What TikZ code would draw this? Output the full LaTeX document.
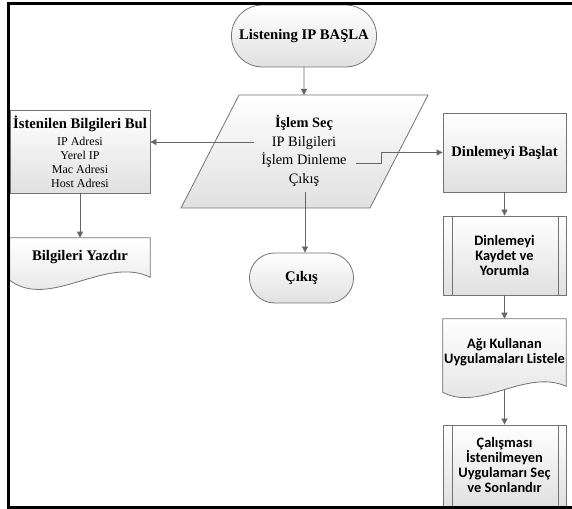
\documentclass[tikz,border=0pt]{standalone}
\usepackage{fontspec}
\setmainfont{Liberation Serif}
\newfontfamily\calfont{Carlito}
\usetikzlibrary{arrows.meta,shapes.misc,calc,backgrounds}

\begin{document}
\begin{tikzpicture}[
  x=0.75pt, y=-0.75pt,
  font=\fontsize{11}{13}\selectfont,
  base/.style={draw=black!55, line width=0.6pt, top color=white, bottom color=black!12},
  box/.style={base, rectangle, align=center, inner sep=0pt},
  term/.style={base, rounded rectangle, font=\fontsize{11}{13}\selectfont\bfseries},
  doc/.style={rectangle, align=center, inner sep=0pt},
  boldtxt/.style={font=\fontsize{11}{13}\selectfont\bfseries},
  calbox/.style={font=\calfont\fontsize{10.8}{11.25}\selectfont\bfseries},
  line/.style={draw=black!55, line width=0.6pt},
  arrow/.style={draw=black!60, line width=0.6pt, -{Triangle[length=4.5pt,width=4.5pt]}}
]
\useasboundingbox (0,0) rectangle (572,509);

% start and choice
\node[term, minimum width=115.5pt, minimum height=46.5pt] (start) at (304,36) {Listening IP BAŞLA};
\draw[base] (181,208) coordinate (pbl) -- (239,95) coordinate (ptl) -- (428,95) coordinate (ptr) -- (370,208) coordinate (pbr) -- cycle;
\node[align=center, font=\fontsize{10.8}{14}\selectfont] (sec) at (304,151) {\textbf{İşlem Seç}\\IP Bilgileri\\İşlem Dinleme\\Çıkış};
\coordinate (secl) at (254,142);
\coordinate (secr) at (356,163);
\coordinate (secd) at (305,192);

% left branch
\node[box, minimum width=105pt, minimum height=62.25pt, font=\fontsize{9}{10.5}\selectfont] (bul) at (80,151.5)
  {{\fontsize{11}{13}\selectfont\bfseries İstenilen Bilgileri Bul}\\[2pt]IP Adresi\\Yerel IP\\Mac Adresi\\Host Adresi};
\node[doc, boldtxt, minimum width=105pt, minimum height=29.25pt] (yaz) at (80,257.5) {Bilgileri Yazdır};

% exit
\node[term, minimum width=84.75pt, minimum height=37.5pt] (cikis) at (301.5,278) {Çıkış};

% right branch
\node[box, boldtxt, minimum width=92.25pt, minimum height=59.25pt] (basla) at (504.5,152.5) {Dinlemeyi Başlat};
\node[box, calbox, minimum width=92.25pt, minimum height=59.25pt] (kaydet) at (504.5,255.5) {Dinlemeyi\\Kaydet ve\\Yorumla};
\node[doc, calbox, minimum width=92.25pt, minimum height=50.25pt] (liste) at (504.5,352.5) {Ağı Kullanan\\Uygulamaları Listele};
\node[box, calbox, minimum width=92.25pt, minimum height=60.75pt] (sonlan) at (504.5,465.5) {Çalışması\\İstenilmeyen\\Uygulamarı Seç\\ve Sonlandır};

% process bars
\draw[line] ([xshift=7.5pt]kaydet.north west) -- ([xshift=7.5pt]kaydet.south west);
\draw[line] ([xshift=-6pt]kaydet.north east) -- ([xshift=-6pt]kaydet.south east);
\draw[line] ([xshift=7.5pt]sonlan.north west) -- ([xshift=7.5pt]sonlan.south west);
\draw[line] ([xshift=-6pt]sonlan.north east) -- ([xshift=-6pt]sonlan.south east);

% document shapes
\begin{scope}[on background layer]
\draw[base] (yaz.north west) -- (yaz.north east) -- (yaz.south east)
  .. controls +(-45,-22) and +(40,30) .. ($(yaz.south west)+(0,3)$) -- cycle;
\draw[base] (liste.north west) -- (liste.north east) -- (liste.south east)
  .. controls +(-41,-18) and +(37,20) .. ($(liste.south west)+(0,6)$) -- cycle;
\end{scope}

% connectors
\draw[arrow] (start) -- (start.south |- ptl);
\draw[arrow] (secl) -- (secl -| bul.east);
\draw[arrow] (secr) -- ++(25,0) |- (basla.west);
\draw[arrow] (secd) -- (secd |- cikis.north);
\draw[arrow] (bul) -- (yaz);
\draw[arrow] (basla) -- (kaydet);
\draw[arrow] (kaydet) -- (liste);
\draw[arrow] ($(liste.south)+(0,4)$) -- (sonlan);

% frame
\draw[line width=2.25pt] (572,3.5) -- (8.5,3.5) -- (8.5,507.5) -- (572,507.5);
\end{tikzpicture}
\end{document}
